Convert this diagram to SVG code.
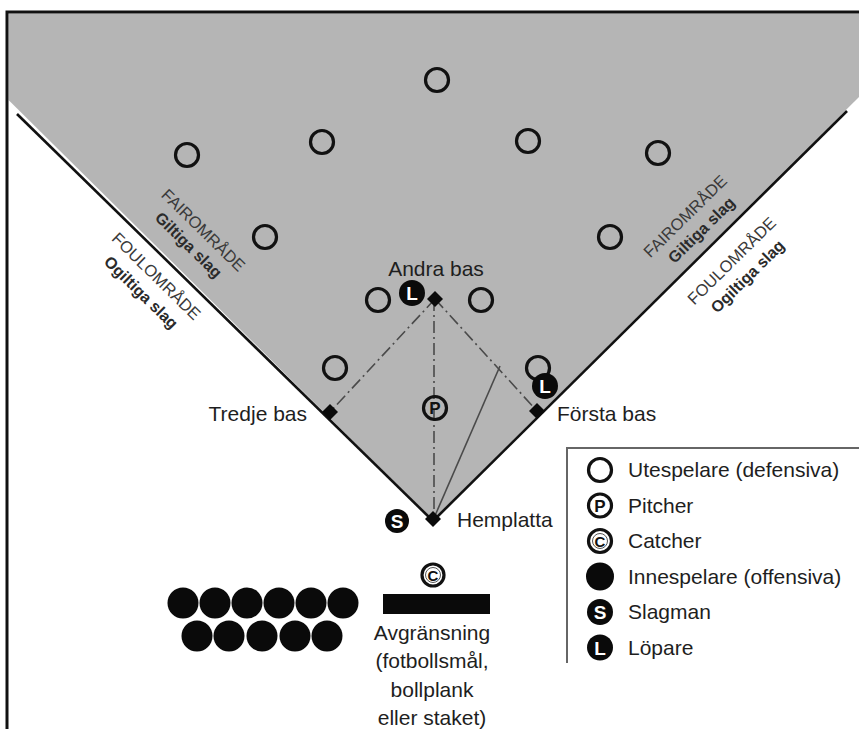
<svg xmlns="http://www.w3.org/2000/svg" width="859" height="729" viewBox="0 0 859 729">
<style>
text{font-family:"Liberation Sans",Arial,sans-serif;fill:#1e1e1e}
.lbl{font-size:21px}
.cap{font-size:16.5px;fill:#3a3a3a}
.bold{font-size:16px;font-weight:bold;fill:#2a2a2a}
.fld{fill:none;stroke:#111;stroke-width:3.2}
.blk{fill:#0a0a0a}
.wl{font-size:19px;font-weight:bold;fill:#fff;text-anchor:middle}
.bl{font-size:17px;font-weight:bold;fill:#111;text-anchor:middle}
.path{fill:none;stroke:#4a4a4a;stroke-width:1.6;stroke-dasharray:12 4 2 4}
.hit{fill:none;stroke:#4a4a4a;stroke-width:1.6}
.foul{stroke:#111;stroke-width:2.6;fill:none}
</style>
<defs>
<polygon id="base" points="0,-8 8,0 0,8 -8,0" fill="#0a0a0a"/>
<circle id="fielder" r="11.5" class="fld"/>
</defs>
<rect width="859" height="729" fill="#fff"/>
<g id="field">
<polygon points="8.5,13.5 859,13.5 859,97 433,520 8.5,100" fill="#b5b5b5"/>
<line class="foul" x1="17" y1="114" x2="433" y2="521"/>
<line class="foul" x1="433" y1="521" x2="847" y2="111"/>
</g>
<path d="M7,729 V12 H859" fill="none" stroke="#111" stroke-width="3"/>
<g id="connectors">
<line class="path" x1="435" y1="299" x2="330" y2="412"/>
<line class="path" x1="434" y1="299" x2="434" y2="519"/>
<line class="path" x1="435" y1="299" x2="537" y2="411"/>
<line class="hit" x1="500" y1="366" x2="434" y2="518"/>
</g>
<g id="labels-fair-foul">
<g transform="translate(203.5,230) rotate(44.4)"><text class="cap" x="0" y="6" text-anchor="middle">FAIROMRÅDE</text></g>
<g transform="translate(187.5,246) rotate(44.4)"><text class="bold" x="0" y="4" text-anchor="middle">Giltiga slag</text></g>
<g transform="translate(156.5,276) rotate(44.4)"><text class="cap" x="0" y="6" text-anchor="middle">FOULOMRÅDE</text></g>
<g transform="translate(140,293.5) rotate(44.4)"><text class="bold" x="0" y="4" text-anchor="middle">Ogiltiga slag</text></g>
<g transform="translate(685,216) rotate(-44.6)"><text class="cap" x="0" y="6" text-anchor="middle">FAIROMRÅDE</text></g>
<g transform="translate(702.5,231) rotate(-44.6)"><text class="bold" x="0" y="4" text-anchor="middle">Giltiga slag</text></g>
<g transform="translate(731.5,260.5) rotate(-44.6)"><text class="cap" x="0" y="6" text-anchor="middle">FOULOMRÅDE</text></g>
<g transform="translate(748.5,277.5) rotate(-44.6)"><text class="bold" x="0" y="4" text-anchor="middle">Ogiltiga slag</text></g>
</g>
<g id="fielders">
<use href="#fielder" x="437" y="80"/>
<use href="#fielder" x="322" y="142"/>
<use href="#fielder" x="528" y="141"/>
<use href="#fielder" x="187" y="155"/>
<use href="#fielder" x="658" y="153"/>
<use href="#fielder" x="265" y="237"/>
<use href="#fielder" x="610" y="237"/>
<use href="#fielder" x="378" y="300"/>
<use href="#fielder" x="481" y="300"/>
<use href="#fielder" x="335" y="368"/>
<use href="#fielder" x="538" y="368"/>
</g>
<g id="second-base"><use href="#base" x="435" y="299"/><text class="lbl" x="436" y="276" text-anchor="middle">Andra bas</text></g>
<g id="third-base"><use href="#base" x="330" y="412"/><text class="lbl" x="307" y="421" text-anchor="end">Tredje bas</text></g>
<g id="first-base"><use href="#base" x="537" y="411"/><text class="lbl" x="557" y="421">Första bas</text></g>
<g id="home-plate"><use href="#base" x="433" y="519"/><text class="lbl" x="457" y="527">Hemplatta</text></g>
<g id="runner-second"><circle cx="412" cy="293" r="13" class="blk"/><text class="wl" x="412" y="300">L</text></g>
<g id="runner-first"><circle cx="545" cy="386" r="13" class="blk"/><text class="wl" x="545" y="393">L</text></g>
<g id="pitcher"><circle cx="435" cy="408" r="11.5" class="fld"/><text class="bl" x="435" y="414">P</text></g>
<g id="batter"><circle cx="397" cy="521" r="12" class="blk"/><text class="wl" x="397" y="528">S</text></g>
<g id="catcher"><circle cx="433" cy="575" r="11" class="fld"/><circle cx="433" cy="575" r="7.5" fill="none" stroke="#555" stroke-width="1"/><text class="bl" x="433" y="580.5" style="font-size:15px">C</text></g>
<g id="batting-team" class="blk">
<circle cx="183" cy="603" r="15.5"/><circle cx="215" cy="603" r="15.5"/><circle cx="247" cy="603" r="15.5"/><circle cx="279" cy="603" r="15.5"/><circle cx="311" cy="603" r="15.5"/><circle cx="343" cy="603" r="15.5"/>
<circle cx="197" cy="636" r="15.5"/><circle cx="229" cy="636" r="15.5"/><circle cx="262" cy="636" r="15.5"/><circle cx="295" cy="636" r="15.5"/><circle cx="327" cy="636" r="15.5"/>
</g>
<g id="barrier">
<rect x="383" y="594" width="107" height="20" class="blk"/>
<text class="lbl" x="432" y="640" text-anchor="middle">Avgränsning</text>
<text class="lbl" x="432" y="668" text-anchor="middle">(fotbollsmål,</text>
<text class="lbl" x="432" y="697" text-anchor="middle">bollplank</text>
<text class="lbl" x="432" y="725" text-anchor="middle">eller staket)</text>
</g>
<g id="legend">
<path d="M567,663 V448 H859" fill="none" stroke="#666" stroke-width="2"/>
<circle cx="600" cy="470" r="11.5" class="fld"/><text class="lbl" x="628" y="477">Utespelare (defensiva)</text>
<circle cx="600" cy="505.5" r="11.5" class="fld"/><text class="bl" x="600" y="511.5">P</text><text class="lbl" x="628" y="512.5">Pitcher</text>
<circle cx="600" cy="541" r="11.5" class="fld"/><circle cx="600" cy="541" r="7.5" fill="none" stroke="#555" stroke-width="1"/><text class="bl" x="600" y="546.5" style="font-size:15px">C</text><text class="lbl" x="628" y="548">Catcher</text>
<circle cx="600" cy="576.5" r="14" class="blk"/><text class="lbl" x="628" y="583.5">Innespelare (offensiva)</text>
<circle cx="600" cy="612" r="13" class="blk"/><text class="wl" x="600" y="619">S</text><text class="lbl" x="628" y="619">Slagman</text>
<circle cx="600" cy="647.5" r="13" class="blk"/><text class="wl" x="600" y="654.5">L</text><text class="lbl" x="628" y="654.5">Löpare</text>
</g>
</svg>
